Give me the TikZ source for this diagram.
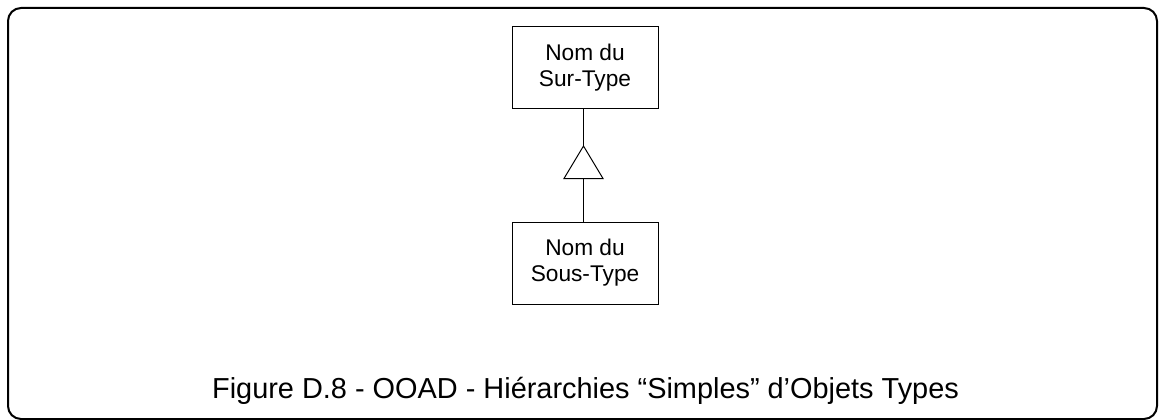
\documentclass[tikz,border=0pt]{standalone}
\usepackage{fontspec}
\setmainfont{Liberation Sans}
\begin{document}
\begin{tikzpicture}[x=1pt,y=-1pt,
  typebox/.style={draw,line width=1pt,minimum width=146pt,minimum height=82pt,inner sep=0pt,align=center,font=\fontsize{22.7}{26}\selectfont},
  conn/.style={line width=1pt},
  caption/.style={font=\fontsize{28.9}{32}\selectfont,inner sep=0pt}]
\useasboundingbox (0,0) rectangle (1159,420);
\draw[line width=2pt,rounded corners=13pt] (8,8) rectangle (1157,419);
\node[typebox] (sur) at (585,67.5) {Nom du\\Sur-Type};
\node[typebox] (sous) at (585,263) {Nom du\\Sous-Type};
\coordinate (apex) at (583.5,146);
\coordinate (bl) at (564,178.5);
\coordinate (br) at (603,178.5);
\coordinate (bm) at (583.5,178.5);
\draw[conn] (sur.south -| apex) -- (apex);
\draw[conn,line join=miter] (apex) -- (br) -- (bl) -- cycle;
\draw[conn] (bm) -- (sous.north -| bm);
\node[caption,anchor=base] (cap) at (585.5,398) {Figure D.8 - OOAD - Hiérarchies “Simples” d’Objets Types};
\end{tikzpicture}
\end{document}
